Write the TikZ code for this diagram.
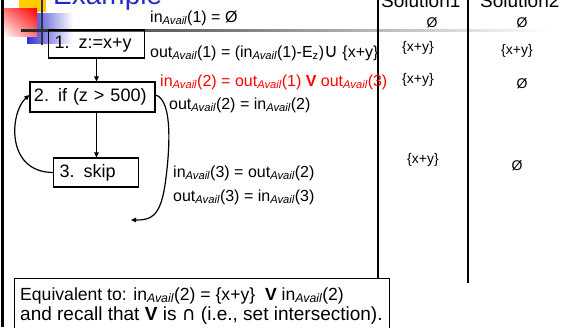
\documentclass[tikz,border=0pt]{standalone}
\usepackage{fontspec}
\setmainfont{Liberation Sans}
\newfontfamily\djv{DejaVu Sans}
\usetikzlibrary{arrows.meta,calc,shadings}
\definecolor{titleblue}{RGB}{40,40,200}
\definecolor{sqblue}{RGB}{50,50,210}
\definecolor{sqyellow}{RGB}{255,204,0}
\newcommand{\Av}{\textsubscript{\itshape Avail}}
\begin{document}
\begin{tikzpicture}[x=1pt,y=-1pt,
  stepbox/.style={draw, line width=1.2pt, inner xsep=6pt, inner ysep=0pt, align=left, font=\fontsize{18}{18}\selectfont},
  arr/.style={line width=1.2pt, -{Triangle[length=5pt,width=4.5pt]}},
  lbl/.style={anchor=base west, inner sep=0pt, font=\fontsize{16}{16}\selectfont},
  sol/.style={inner sep=0pt, font=\fontsize{14}{14}\selectfont},
  hdr/.style={anchor=base west, inner sep=0pt, font=\fontsize{19}{19}\selectfont}]
\useasboundingbox (0,0) rectangle (568,327);
\clip (0,0) rectangle (568,327);
% decorations
\fill[sqyellow] (19,-12) rectangle (46,12);
\shade[left color=sqblue, middle color=sqblue!75!white, right color=white] (27,13) rectangle (73,43);
\shade[upper right=red, upper left=red!55!white, lower right=red!55!white, lower left=white] (3,8) rectangle (37,36);
\draw[line width=2pt, black!80] (42,0) -- (42,45);
\shade[left color=black!85, right color=white] (21,29) rectangle (548,31.5);
\draw[line width=2.5pt, black] (2.5,0) -- (2.5,327);
% title and headers
\node[anchor=base west, inner sep=0pt, font=\fontsize{28}{28}\selectfont, text=titleblue] (title) at (53,4) {Example};
\node[hdr] (h1) at (381,7) {Solution1};
\node[hdr] (h2) at (480,7) {Solution2};
\draw[line width=1.5pt] (378,0) -- (378,278);
\draw[line width=1.5pt] (468,0) -- (468,283);
% flow boxes
\node[stepbox, text width=84pt, minimum height=28pt] (b1) at (96.5,44) {1. z:=x+y};
\node[stepbox, inner xsep=4pt, text width=117pt, minimum height=30pt] (b2) at (92.5,97) {2. if (z > 500)};
\node[stepbox, text width=73pt, minimum height=29pt] (b3) at (96,172.5) {3. skip};
\draw[arr] (b1.south) -- (b1.south |- b2.north);
\draw[arr] (b2.south -| b1.south) -- (b1.south |- b3.north);
\draw[arr] (b3.west) .. controls (5,172) and (10,112) .. ($(b2.west)+(0,-2)$);
\coordinate (endc) at (131,220);
\draw[arr] ($(b2.east)+(0,-2)$) .. controls (173,100) and (170,150) .. (165,185) .. controls (160,218) and (150,220) .. (endc);
% labels
\node[lbl] (l1) at (150,22) {in\Av(1) = Ø};
\node[lbl] (l2) at (150,57) {out\Av(1) = (in\Av(1)-E\textsubscript{z}){\djv\fontsize{19}{19}\selectfont ∪} \{x+y\}};
\node[lbl, text=red] (l3) at (160,86) {in\Av(2) = out\Av(1) \textbf{V} out\Av(3)};
\node[lbl] (l4) at (169,109) {out\Av(2) = in\Av(2)};
\node[lbl] (l5) at (173,177) {in\Av(3) = out\Av(2)};
\node[lbl] (l6) at (173,201) {out\Av(3) = in\Av(3)};
% solutions
\node[sol] (s10) at (432,23) {Ø};
\node[sol] (s20) at (522,23) {Ø};
\node[sol] (s11) at (418,48) {\{x+y\}};
\node[sol] (s21) at (517,51) {\{x+y\}};
\node[sol] (s12) at (418,80) {\{x+y\}};
\node[sol] (s22) at (522,84) {Ø};
\node[sol] (s13) at (423,160) {\{x+y\}};
\node[sol] (s23) at (517,166) {Ø};
% bottom box
\draw[fill=white, line width=0.8pt] (14,278) rectangle (389,340);
\node[lbl, font=\fontsize{17.6}{17.6}\selectfont] (e1) at (20,300) {Equivalent to: in\Av(2) = \{x+y\}\ \ \textbf{V} in\Av(2)};
\node[lbl, font=\fontsize{19}{19}\selectfont] (e2) at (20,320) {and recall that \textbf{V} is {\djv ∩} (i.e., set intersection).};
\end{tikzpicture}
\end{document}
